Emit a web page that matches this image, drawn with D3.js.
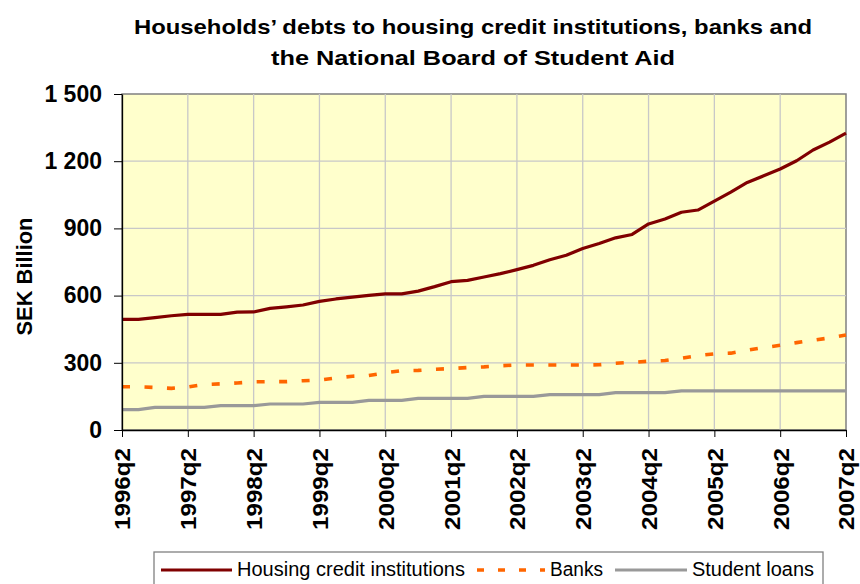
<!DOCTYPE html>
<html>
<head>
<meta charset="utf-8">
<script src="https://d3js.org/d3.v7.min.js"></script>
<style>
body{margin:0;background:#fff;}
svg{display:block;font-family:"Liberation Sans",Arial,sans-serif;}
</style>
</head>
<body>
<div id="chart"></div>
<script>

// quarters on the category axis
var quarters = [
	"1996q2","1996q3","1996q4",
	"1997q1","1997q2","1997q3","1997q4",
	"1998q1","1998q2","1998q3","1998q4",
	"1999q1","1999q2","1999q3","1999q4",
	"2000q1","2000q2","2000q3","2000q4",
	"2001q1","2001q2","2001q3","2001q4",
	"2002q1","2002q2","2002q3","2002q4",
	"2003q1","2003q2","2003q3","2003q4",
	"2004q1","2004q2","2004q3","2004q4",
	"2005q1","2005q2","2005q3","2005q4",
	"2006q1","2006q2","2006q3","2006q4",
	"2007q1","2007q2"
];

// SEK billion
var housing = [494,494,502,510, 516,516,516,526, 527,543,550,558, 574,585,593,601,
	608,608,620,640, 662,668,683,698, 716,735,760,780, 810,833,858,873,
	920,942,972,982, 1022,1062,1105,1135, 1165,1202,1250,1285, 1325];
var banks = [193,193,190,186, 192,203,206,210, 215,216,216,220, 223,232,240,243,
	255,265,266,271, 274,279,282,287, 290,290,290,290, 290,291,298,302,
	307,310,320,332, 340,343,356,368, 378,390,401,411, 424];
var student = [91,91,101,101, 101,101,109,109, 109,116,116,116, 123,123,123,132,
	132,132,141,141, 141,141,150,150, 150,150,158,158, 158,158,167,167,
	167,167,175,175, 175,175,175,175, 175,175,175,175, 175];

var x_labels = ["1996q2","1997q2","1998q2","1999q2","2000q2","2001q2",
	"2002q2","2003q2","2004q2","2005q2","2006q2","2007q2"];
var y_ticks = [0,300,600,900,1200,1500];

var series_names = ["Housing credit institutions","Banks","Student loans"];
var series_colors = ["#800000","#ff6600","#999999"];


function draw_chart(){
	var W = 860, H = 584;
	var margin = {top: 94, left: 122};
	var width = 724, height = 336;

	var svg = d3.select("#chart").append("svg")
		.attr("width", W).attr("height", H);

	// title
	var title = svg.append("text")
		.attr("text-anchor", "middle")
		.style("font-weight", "bold")
		.style("font-size", "21px");
	title.append("tspan").attr("x", 473).attr("y", 34)
		.attr("textLength", 678).attr("lengthAdjust", "spacingAndGlyphs")
		.text("Households\u2019 debts to housing credit institutions, banks and");
	title.append("tspan").attr("x", 473).attr("y", 65)
		.attr("textLength", 404).attr("lengthAdjust", "spacingAndGlyphs")
		.text("the National Board of Student Aid");

	var g = svg.append("g")
		.attr("transform", "translate(" + margin.left + "," + margin.top + ")");

	var x = d3.scalePoint().domain(quarters).range([0, width]);
	var y = d3.scaleLinear().domain([0, 1500]).range([height, 0]);

	// plot area
	g.append("rect")
		.attr("width", width).attr("height", height)
		.attr("fill", "#ffffcc")
		.attr("stroke", "#808080").attr("stroke-width", 1.5);

	// grid
	g.append("g").selectAll("line")
		.data(y_ticks.slice(1, -1))
		.enter().append("line")
		.attr("x1", 0).attr("x2", width)
		.attr("y1", function(d){ return y(d); })
		.attr("y2", function(d){ return y(d); })
		.attr("stroke", "#c8c8c8").attr("stroke-width", 1.3);
	g.append("g").selectAll("line")
		.data(x_labels.slice(1, -1))
		.enter().append("line")
		.attr("y1", 0).attr("y2", height)
		.attr("x1", function(d){ return x(d); })
		.attr("x2", function(d){ return x(d); })
		.attr("stroke", "#c8c8c8").attr("stroke-width", 1.3);

	// lines
	var all = [housing, banks, student];
	var valueline = d3.line()
		.x(function(d, i){ return x(quarters[i]); })
		.y(function(d){ return y(d); });
	for (var s = 2; s >= 0; s--){
		g.append("path")
			.datum(all[s])
			.attr("fill", "none")
			.attr("stroke", series_colors[s])
			.attr("stroke-width", s == 1 ? 3.6 : 3.2)
			.attr("stroke-linejoin", "round")
			.attr("stroke-dasharray", s == 1 ? "8,14.5" : null)
			.attr("d", valueline);
	}

	// y axis
	var fmt = d3.formatLocale({decimal: ",", thousands: " ", grouping: [3], currency: ["", ""]}).format(",d");
	var yAxis = g.append("g")
		.call(d3.axisLeft(y).tickValues(y_ticks).tickSize(8).tickSizeOuter(0)
			.tickPadding(12).tickFormat(fmt));
	yAxis.selectAll("text")
		.style("font-size", "23px").style("font-weight", "bold")
		.attr("fill", "#000").attr("font-family", null);
	yAxis.select(".domain").attr("stroke", "#000").attr("stroke-width", 1.3);

	// x axis
	var xAxis = g.append("g")
		.attr("transform", "translate(0," + height + ")")
		.call(d3.axisBottom(x).tickValues(x_labels).tickSize(7).tickSizeOuter(0));
	xAxis.selectAll("text")
		.attr("transform", "rotate(-90)")
		.attr("x", -18).attr("y", 0).attr("dy", "0.36em")
		.attr("textLength", 82).attr("lengthAdjust", "spacingAndGlyphs")
		.style("text-anchor", "end")
		.style("font-size", "22px").style("font-weight", "bold")
		.attr("fill", "#000").attr("font-family", null);
	xAxis.select(".domain").attr("stroke", "#000").attr("stroke-width", 1.3);

	// y axis title
	svg.append("text")
		.attr("transform", "translate(24,276.5) rotate(-90)")
		.attr("text-anchor", "middle").attr("dy", "0.36em")
		.attr("textLength", 118).attr("lengthAdjust", "spacingAndGlyphs")
		.style("font-size", "22px").style("font-weight", "bold")
		.text("SEK Billion");

	// legend
	var lg = svg.append("g");
	lg.append("rect")
		.attr("x", 154).attr("y", 552).attr("width", 669).attr("height", 45)
		.attr("fill", "#fff").attr("stroke", "#808080").attr("stroke-width", 1.3);
	var sample_x = [161, 477, 615];
	var sample_w = [71, 68, 72];
	var text_w = [228, 53, 122];
	for (var k = 0; k < 3; k++){
		lg.append("line")
			.attr("x1", sample_x[k]).attr("x2", sample_x[k] + sample_w[k])
			.attr("y1", 570).attr("y2", 570)
			.attr("stroke", series_colors[k])
			.attr("stroke-width", k == 1 ? 3.6 : 3.2)
			.attr("stroke-dasharray", k == 1 ? "7,14" : null);
		lg.append("text")
			.attr("x", sample_x[k] + sample_w[k] + 5).attr("y", 576)
			.attr("textLength", text_w[k]).attr("lengthAdjust", "spacingAndGlyphs")
			.style("font-size", "20px")
			.text(series_names[k]);
	}
}

draw_chart();
</script>
</body>
</html>
